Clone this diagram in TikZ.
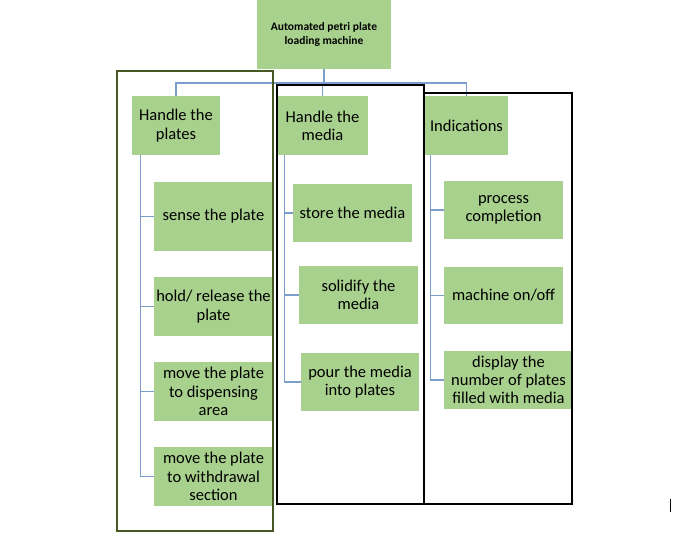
\documentclass[tikz,border=0pt]{standalone}
\usepackage{fontspec}
\setmainfont{Carlito}
\usepackage{xcolor}
\definecolor{boxgreen}{RGB}{169,209,142}
\definecolor{linkblue}{RGB}{124,158,204}
\definecolor{frameolive}{RGB}{70,88,36}

\begin{document}
\begin{tikzpicture}[x=1pt,y=-1pt,
  item/.style={fill=boxgreen,inner sep=0pt,align=center,font=\fontsize{16.5}{18.3}\selectfont},
  link/.style={draw=linkblue,line width=1.1pt}]
  \useasboundingbox (0,0) rectangle (681,535);
  % top and first level
  \node[item,minimum width=134,minimum height=69,font=\fontsize{11.5}{14}\selectfont\bfseries] (top) at (324,34.5) {Automated petri plate\\loading machine};
  \node[item,minimum width=88,minimum height=59] (plates) at (176,125.5) {Handle the\\plates};
  \node[item,minimum width=91,minimum height=59] (media) at (322.5,125.5) {Handle the\\media};
  \node[item,minimum width=83,minimum height=59] (ind) at (466.5,125.5) {Indications};
  % second level
  \node[item,minimum width=119,minimum height=69] (sense) at (213.5,216.5) {sense the plate};
  \node[item,minimum width=119,minimum height=59] (hold) at (213.5,306.5) {hold/ release the\\plate};
  \node[item,minimum width=119,minimum height=59] (dispense) at (213.5,391.5) {move the plate\\to dispensing\\area};
  \node[item,minimum width=119,minimum height=59] (withdraw) at (213.5,476.5) {move the plate\\to withdrawal\\section};
  \node[item,minimum width=119,minimum height=58] (store) at (352.5,213) {store the media};
  \node[item,minimum width=119,minimum height=58] (solid) at (358.5,295) {solidify the\\media};
  \node[item,minimum width=118,minimum height=58] (pour) at (360,382) {pour the media\\into plates};
  \node[item,minimum width=119,minimum height=58] (proc) at (503.5,210) {process\\completion};
  \node[item,minimum width=119,minimum height=57] (onoff) at (503.5,295.5) {machine on/off};
  \node[item,minimum width=129,minimum height=58] (display) at (508.5,380) {display the\\number of plates\\filled with media};
  % connectors
  \coordinate (bar) at (0,83);
  \draw[link] (top.south) -- (top.south|-bar);
  \draw[link] (plates.north) -- (plates.north|-bar) -- (ind.north|-bar) -- (ind.north);
  \draw[link] (media.north) -- (media.north|-bar);
  \coordinate (pl) at ([xshift=9pt]plates.south west); \coordinate (md) at ([xshift=8pt]media.south west); \coordinate (in) at ([xshift=6pt]ind.south west);
  \draw[link] (pl) |- (withdraw.west); \draw[link] (md) |- (pour.west); \draw[link] (in) |- (display.west);
  \foreach \c in {sense,hold,dispense} \draw[link] (pl|-\c.west) -- (\c.west);
  \foreach \c in {store,solid} \draw[link] (md|-\c.west) -- (\c.west);
  \foreach \c in {proc,onoff} \draw[link] (in|-\c.west) -- (\c.west);
  % frames
  \draw[frameolive,line width=1.2pt] (117,71) rectangle (273,531);
  \draw[black,line width=1.2pt] (277,85) rectangle (424,504);
  \draw[black,line width=1.2pt] (424,93) rectangle (572,504);
  \draw[black,line width=1pt] (670.5,499) -- (670.5,512);
\end{tikzpicture}
\end{document}
